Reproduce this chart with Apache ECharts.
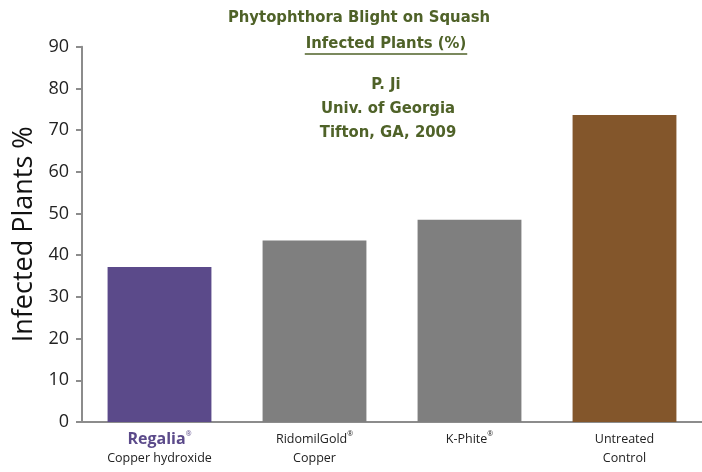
<!DOCTYPE html>
<html><head><meta charset="utf-8">
<script src="https://cdn.jsdelivr.net/npm/echarts@6/dist/echarts.min.js"></script>
<style>html,body{margin:0;padding:0;background:#fff}#c{width:702px;height:472px}</style>
</head><body><div id="c"></div>
<script>
var categories = ['Regalia', 'RidomilGold', 'K-Phite', 'Untreated'];
var subLabels = ['Copper hydroxide', 'Copper', '', 'Control'];
var registered = [true, true, true, false];
var values = [37.2, 43.5, 48.5, 73.6];
var barColors = ['#5b4a8a', '#7f7f7f', '#7f7f7f', '#83562b'];
var yTicks = [0, 10, 20, 30, 40, 50, 60, 70, 80, 90];
var titleLines = ['Phytophthora Blight on Squash', 'Infected Plants (%)', 'P. Ji', 'Univ. of Georgia', 'Tifton, GA, 2009'];

var FONT = '"DejaVu Sans Condensed", sans-serif';
var TSIZE = 16.5;
var green = '#4f6228';
var chart = echarts.init(document.getElementById('c'));
var titleY = [9, 35, 76, 100, 124];
var titleX = [359, 386, 386, 388, 388];
var cv = document.createElement('canvas').getContext('2d');
cv.font = 'bold ' + TSIZE + 'px ' + FONT;
var ulW = cv.measureText(titleLines[1]).width;
chart.setOption({
  animation: false,
  title: titleLines.map(function (t, i) {
    return { text: t, left: titleX[i], top: titleY[i], textAlign: 'center', padding: 0,
      textStyle: { fontFamily: FONT, fontWeight: 'bold', fontSize: TSIZE, color: green } };
  }),
  graphic: [{ type: 'line', shape: { x1: titleX[1] - ulW / 2 - 1, y1: 54, x2: titleX[1] + ulW / 2 + 1, y2: 54 }, style: { stroke: green, lineWidth: 1.5 } }],
  grid: { left: 82, right: -4, top: 46.7, bottom: 50 },
  xAxis: {
    type: 'category', data: categories,
    axisLine: { lineStyle: { color: '#8c8c8c', width: 2 } },
    axisTick: { length: 6, lineStyle: { color: '#8c8c8c', width: 2 } },
    axisLabel: {
      margin: 8, interval: 0,
      formatter: function (v, i) {
        var reg = registered[i] ? (i === 0 ? '{bs|®}' : '{as|®}') : '';
        var first = (i === 0 ? '{b|' + v + '}' : '{a|' + v + '}') + reg;
        return subLabels[i] ? first + '\n{c|' + subLabels[i] + '}' : first;
      },
      rich: {
        a: { fontFamily: '"Open Sans", sans-serif', fontSize: 12.5, color: '#222', lineHeight: 19 },
        as: { fontFamily: '"Open Sans", sans-serif', fontSize: 7, color: '#222', verticalAlign: 'top', lineHeight: 19 },
        b: { fontFamily: '"Open Sans", sans-serif', fontSize: 16, fontWeight: 'bold', color: '#5b4a8a', lineHeight: 19 },
        bs: { fontFamily: '"Open Sans", sans-serif', fontSize: 7, color: '#5b4a8a', verticalAlign: 'top', lineHeight: 19 },
        c: { fontFamily: '"Open Sans", sans-serif', fontSize: 12.5, color: '#222', lineHeight: 19 }
      }
    }
  },
  yAxis: {
    type: 'value', min: yTicks[0], max: yTicks[yTicks.length - 1], interval: 10,
    name: 'Infected Plants %', nameLocation: 'middle', nameGap: 43,
    nameTextStyle: { fontFamily: '"Open Sans", sans-serif', fontSize: 27, color: '#111' },
    axisLine: { show: true, lineStyle: { color: '#8c8c8c', width: 2 } },
    axisTick: { show: true, length: 6, lineStyle: { color: '#8c8c8c', width: 2 } },
    splitLine: { show: false },
    axisLabel: { margin: 13, fontFamily: '"Open Sans", sans-serif', fontSize: 18, color: '#222' }
  },
  series: [{
    type: 'bar', barCategoryGap: '33%',
    data: values.map(function (v, i) { return { value: v, itemStyle: { color: barColors[i] } }; })
  }]
});
</script></body></html>
